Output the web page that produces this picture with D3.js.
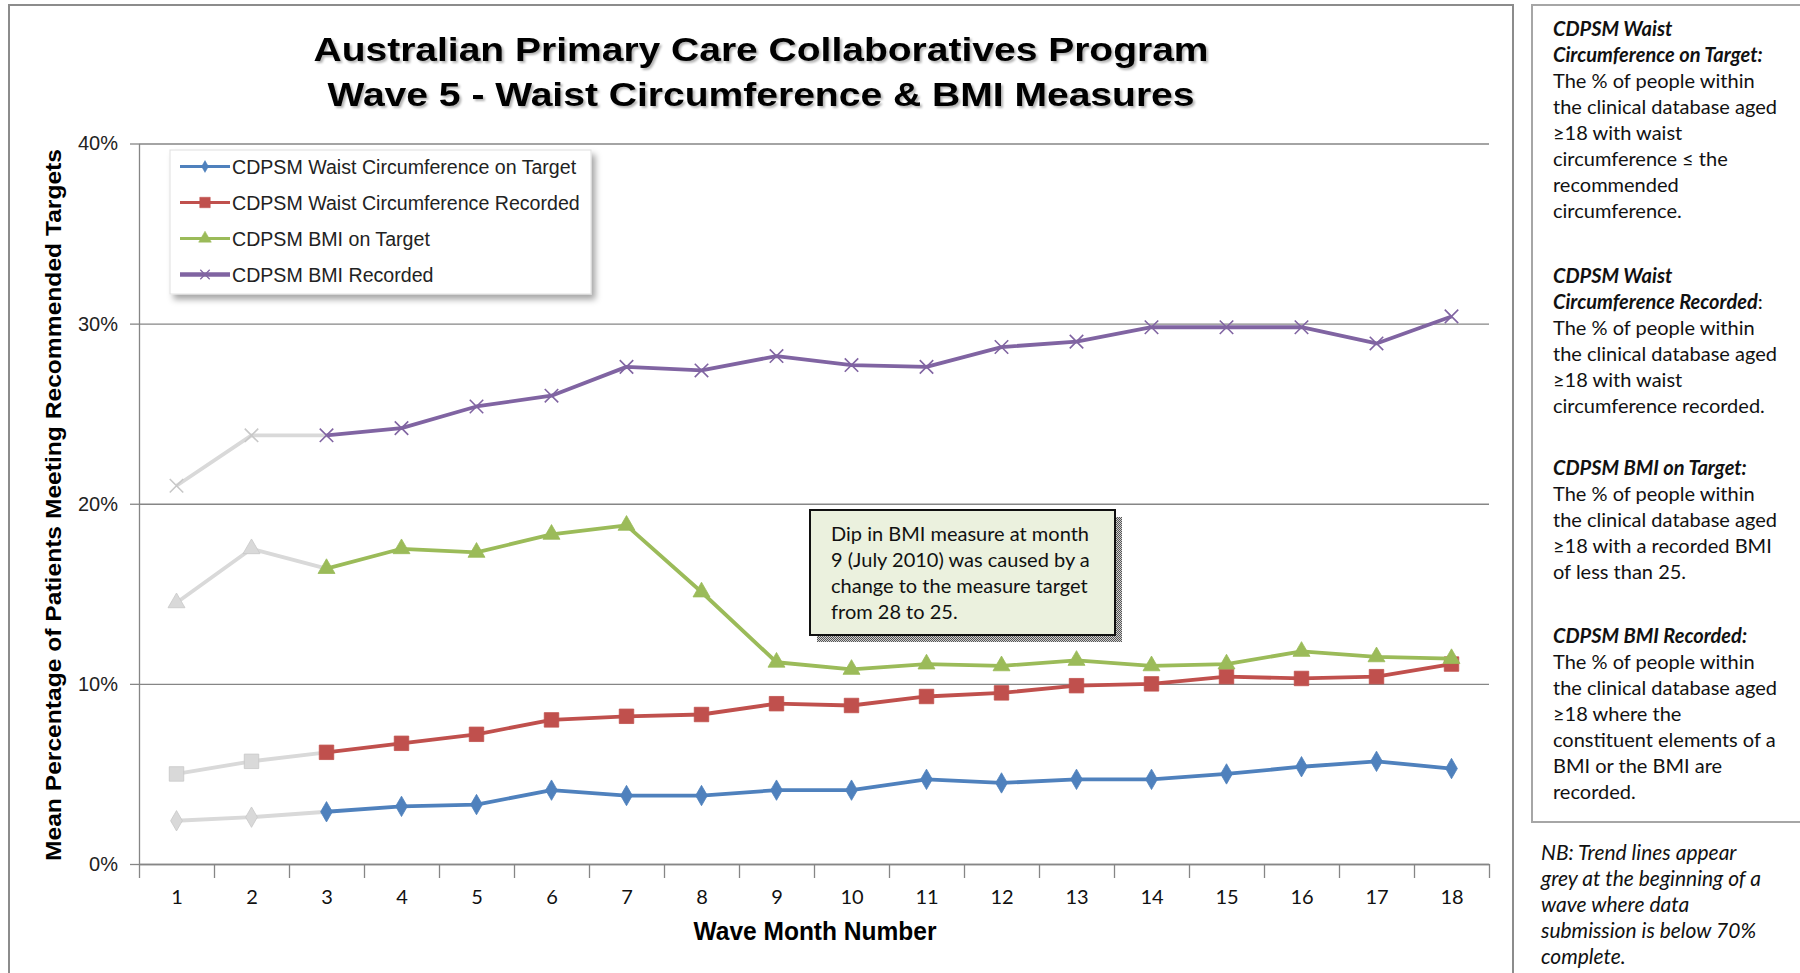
<!DOCTYPE html>
<html>
<head>
<meta charset="utf-8">
<script src="https://cdn.jsdelivr.net/npm/d3@7/dist/d3.min.js"></script>
<style>
  body { margin: 0; background: #fff; }
  svg { display: block; }
</style>
</head>
<body>
<svg id="chart"></svg>
<script>
// chart values
var months = [1,2,3,4,5,6,7,8,9,10,11,12,13,14,15,16,17,18];
var seriesNames = ["CDPSM Waist Circumference on Target", "CDPSM Waist Circumference Recorded", "CDPSM BMI on Target", "CDPSM BMI Recorded"];
var waistOnTarget = [2.4, 2.6, 2.9, 3.2, 3.3, 4.1, 3.8, 3.8, 4.1, 4.1, 4.7, 4.5, 4.7, 4.7, 5.0, 5.4, 5.7, 5.3];
var waistRecorded = [5.0, 5.7, 6.2, 6.7, 7.2, 8.0, 8.2, 8.3, 8.9, 8.8, 9.3, 9.5, 9.9, 10.0, 10.4, 10.3, 10.4, 11.1];
var bmiOnTarget = [14.5, 17.5, 16.4, 17.5, 17.3, 18.3, 18.8, 15.1, 11.2, 10.8, 11.1, 11.0, 11.3, 11.0, 11.1, 11.8, 11.5, 11.4];
var bmiRecorded = [21.0, 23.8, 23.8, 24.2, 25.4, 26.0, 27.6, 27.4, 28.2, 27.7, 27.6, 28.7, 29.0, 29.8, 29.8, 29.8, 28.9, 30.4];
var greyMonths = [1, 2]; // data submission below 70% complete
var yTicks = [0, 10, 20, 30, 40];
var noteLines = ["Dip in BMI measure at month", "9 (July 2010) was caused by a", "change to the measure target", "from 28 to 25."];
var nbLines = ["NB: Trend lines appear", "grey at the beginning of a", "wave where data", "submission is below 70%", "complete."];
var defParas = [
  {head: ["CDPSM Waist", "Circumference on Target:"], body: ["The % of people within", "the clinical database aged", "\u226518 with waist", "circumference \u2264 the", "recommended", "circumference."]},
  {head: ["CDPSM Waist", "Circumference Recorded"], body: ["The % of people within", "the clinical database aged", "\u226518 with waist", "circumference recorded."]},
  {head: ["CDPSM BMI on Target:"], body: ["The % of people within", "the clinical database aged", "\u226518 with a recorded BMI", "of less than 25."]},
  {head: ["CDPSM BMI Recorded:"], body: ["The % of people within", "the clinical database aged", "\u226518 where the", "constituent elements of a", "BMI or the BMI are", "recorded."]}
];

var colors = ["#4f81bd", "#c0504d", "#9bbb59", "#8064a2"];
var greyCol = "#d9d9d9";

var screen = {width: 1800, height: 973};
var plot = {left: 139, right: 1489, top: 143.5, bottom: 864};

var svg = d3.select("#chart")
            .attr("width", screen.width)
            .attr("height", screen.height);

var defs = svg.append("defs");
var ds = defs.append("filter").attr("id", "legShadow").attr("x", "-10%").attr("y", "-10%").attr("width", "130%").attr("height", "140%");
ds.append("feDropShadow").attr("dx", 4).attr("dy", 5).attr("stdDeviation", 3).attr("flood-color", "#000").attr("flood-opacity", 0.35);
var ts = defs.append("filter").attr("id", "titleShadow");
ts.append("feDropShadow").attr("dx", 2).attr("dy", 2).attr("stdDeviation", 1).attr("flood-color", "#000").attr("flood-opacity", 0.3);
var hatch = defs.append("pattern").attr("id", "hatch").attr("width", 2).attr("height", 2).attr("patternUnits", "userSpaceOnUse");
hatch.append("rect").attr("width", 2).attr("height", 2).attr("fill", "#d0d0d0");
hatch.append("rect").attr("width", 1).attr("height", 1).attr("fill", "#555");
hatch.append("rect").attr("x", 1).attr("y", 1).attr("width", 1).attr("height", 1).attr("fill", "#555");

//outer frames
svg.append("rect").attr("x", 9).attr("y", 5).attr("width", 1504).attr("height", 1000)
   .attr("fill", "#fff").attr("stroke", "#8c8c8c").attr("stroke-width", 2);
svg.append("rect").attr("x", 1532).attr("y", 5).attr("width", 320).attr("height", 817)
   .attr("fill", "#fff").attr("stroke", "#a6a6a6").attr("stroke-width", 2);

//title
var title = svg.append("g").attr("filter", "url(#titleShadow)")
               .style("font-family", "'Liberation Sans', Arial, sans-serif")
               .style("font-weight", "bold").style("font-size", "34px");
title.append("text").attr("x", 761).attr("y", 61).attr("text-anchor", "middle")
     .attr("textLength", 895).attr("lengthAdjust", "spacingAndGlyphs")
     .text("Australian Primary Care Collaboratives Program");
title.append("text").attr("x", 761).attr("y", 106).attr("text-anchor", "middle")
     .attr("textLength", 867).attr("lengthAdjust", "spacingAndGlyphs")
     .text("Wave 5 - Waist Circumference & BMI Measures");

//scales
var xScale = d3.scaleLinear().domain([0.5, 18.5]).range([plot.left, plot.right]);
var yScale = d3.scaleLinear().domain([0, 40]).range([plot.bottom, plot.top]);

//gridlines
svg.append("g")
   .attr("transform", "translate(" + plot.left + ",0)")
   .call(d3.axisLeft(yScale).tickValues(yTicks).tickSize(-(plot.right - plot.left)).tickFormat(""))
   .call(function(g) { g.select(".domain").remove(); })
   .selectAll("line").attr("stroke", "#868686").attr("stroke-width", 1.3);

//y-axis
var yAxis = svg.append("g")
   .attr("transform", "translate(" + plot.left + ",0)")
   .call(d3.axisLeft(yScale).tickValues(yTicks).tickSize(9).tickSizeOuter(0).tickPadding(12).tickFormat(function(d) { return d + "%"; }));
yAxis.select(".domain").attr("stroke", "#868686").attr("stroke-width", 1.3);
yAxis.selectAll("line").attr("stroke", "#868686").attr("stroke-width", 1.3);
yAxis.selectAll("text").style("font-family", "'Liberation Sans Narrow', 'Arial Narrow', 'Liberation Sans', sans-serif")
     .style("font-size", "20px").attr("fill", "#222");

//x-axis ticks at category edges
var xAxis = svg.append("g")
   .attr("transform", "translate(0," + plot.bottom + ")")
   .call(d3.axisBottom(xScale).tickValues(d3.range(0.5, 19, 1)).tickSize(14).tickSizeOuter(0).tickFormat(""));
xAxis.select(".domain").attr("stroke", "#868686").attr("stroke-width", 1.3);
xAxis.selectAll("line").attr("stroke", "#868686").attr("stroke-width", 1.3);

var xLabels = svg.append("g")
   .attr("transform", "translate(0," + plot.bottom + ")")
   .call(d3.axisBottom(xScale).tickValues(months).tickSize(0).tickPadding(26).tickFormat(d3.format("d")));
xLabels.select(".domain").remove();
xLabels.selectAll("text").style("font-family", "Lato, 'Open Sans', sans-serif")
       .style("font-size", "20px").attr("fill", "#111");

//axis titles
svg.append("text")
   .attr("transform", "translate(61,505) rotate(-90)")
   .attr("text-anchor", "middle")
   .attr("textLength", 712).attr("lengthAdjust", "spacingAndGlyphs")
   .style("font-family", "'Liberation Sans', Arial, sans-serif")
   .style("font-weight", "bold").style("font-size", "22px")
   .text("Mean Percentage of Patients Meeting Recommended Targets");

svg.append("text")
   .attr("x", 815).attr("y", 940)
   .attr("text-anchor", "middle")
   .attr("textLength", 243).attr("lengthAdjust", "spacingAndGlyphs")
   .style("font-family", "'Liberation Sans', Arial, sans-serif")
   .style("font-weight", "bold").style("font-size", "25px")
   .text("Wave Month Number");

//series
var allSeries = [waistOnTarget, waistRecorded, bmiOnTarget, bmiRecorded];
var symbols = [d3.symbolDiamond, d3.symbolSquare, d3.symbolTriangle, d3.symbolTimes || d3.symbolX];
var symSize = [120, 210, 125, 120];
var lastGrey = greyMonths[greyMonths.length - 1];

var line = d3.line()
             .x(function(d) { return xScale(d.m); })
             .y(function(d) { return yScale(d.v); });

allSeries.forEach(function(vals, s)
{
  var pts = months.map(function(m, i) { return {m: m, v: vals[i]}; });
  var greyPart = pts.filter(function(d) { return d.m <= lastGrey + 1; });
  var colPart = pts.filter(function(d) { return d.m >= lastGrey + 1; });

  var g = svg.append("g").classed("series", true);

  g.append("path").datum(greyPart).attr("d", line)
   .attr("fill", "none").attr("stroke", greyCol).attr("stroke-width", 3.8).attr("stroke-linejoin", "round");
  g.append("path").datum(colPart).attr("d", line)
   .attr("fill", "none").attr("stroke", colors[s]).attr("stroke-width", 3.8).attr("stroke-linejoin", "round");

  var isStroke = (s == 3);
  g.selectAll("path.mark")
   .data(pts)
   .enter()
   .append("path")
   .classed("mark", true)
   .attr("transform", function(d) { return "translate(" + xScale(d.m) + "," + yScale(d.v) + ")"; })
   .attr("d", d3.symbol().type(symbols[s]).size(symSize[s]))
   .attr("fill", function(d) { return isStroke ? "none" : (d.m <= lastGrey ? greyCol : colors[s]); })
   .attr("stroke", function(d) { return d.m <= lastGrey ? "#c8c8c8" : colors[s]; })
   .attr("stroke-width", isStroke ? 1.6 : 0.8);
});

//legend
var legend = svg.append("g").classed("legend", true);
legend.append("rect").attr("x", 170).attr("y", 150).attr("width", 421).attr("height", 144)
      .attr("fill", "#fff").attr("stroke", "#e0e0e0").attr("filter", "url(#legShadow)");

var legendLines = legend.selectAll("g.item")
   .data(seriesNames)
   .enter()
   .append("g")
   .classed("item", true)
   .attr("transform", function(d, i) { return "translate(0," + (166.5 + i * 36) + ")"; });

legendLines.append("line")
   .attr("x1", 180).attr("x2", 230).attr("y1", 0).attr("y2", 0)
   .attr("stroke", function(d, i) { return colors[i]; })
   .attr("stroke-width", function(d, i) { return i == 3 ? 4.5 : 3; });

legendLines.append("path")
   .attr("transform", "translate(205,0)")
   .attr("d", function(d, i) { return d3.symbol().type(symbols[i]).size([40, 110, 70, 60][i])(); })
   .attr("fill", function(d, i) { return i == 3 ? "none" : colors[i]; })
   .attr("stroke", function(d, i) { return colors[i]; })
   .attr("stroke-width", function(d, i) { return i == 3 ? 1.2 : 0.5; });

legendLines.append("text")
   .attr("x", 232).attr("dy", "0.36em")
   .style("font-family", "'Liberation Sans Narrow', 'Arial Narrow', 'Liberation Sans', sans-serif")
   .style("font-size", "19.6px").attr("fill", "#222")
   .text(function(d) { return d; });

//annotation
var note = svg.append("g").classed("note", true);
note.append("rect").attr("x", 817).attr("y", 517).attr("width", 305).attr("height", 125).attr("fill", "url(#hatch)");
note.append("rect").attr("x", 810).attr("y", 510).attr("width", 305).attr("height", 125)
    .attr("fill", "#ebf1de").attr("stroke", "#111").attr("stroke-width", 2);
note.selectAll("text")
    .data(noteLines)
    .enter()
    .append("text")
    .attr("x", 831)
    .attr("y", function(d, i) { return 541 + i * 26; })
    .style("font-family", "Lato, 'Open Sans', sans-serif")
    .style("font-size", "20px").attr("fill", "#111")
    .text(function(d) { return d; });

//definitions panel
var paraTop = [29, 275.5, 468, 636];
var defs2 = svg.append("g").classed("definitions", true)
               .style("font-family", "Lato, 'Open Sans', sans-serif").style("font-size", "20px");
defParas.forEach(function(p, k)
{
  var rows = p.head.map(function(t) { return {t: t, head: true}; })
              .concat(p.body.map(function(t) { return {t: t, head: false}; }));
  var txt = defs2.selectAll("text.p" + k)
       .data(rows)
       .enter()
       .append("text")
       .classed("p" + k, true)
       .attr("x", 1553)
       .attr("y", function(d, i) { return paraTop[k] + 7 + i * 26; })
       .attr("fill", "#111")
       .style("font-weight", function(d) { return d.head ? "bold" : "normal"; })
       .style("font-style", function(d) { return d.head ? "italic" : "normal"; })
       .text(function(d) { return d.t; });
  if (k == 1) {
    // colon is not italic in the reference
    txt.filter(function(d, i) { return i == 1; }).append("tspan")
       .style("font-weight", "normal").style("font-style", "normal").text(":");
  }
});

svg.append("g").classed("nb", true)
   .selectAll("text")
   .data(nbLines)
   .enter()
   .append("text")
   .attr("x", 1541)
   .attr("y", function(d, i) { return 860 + i * 26; })
   .style("font-family", "Lato, 'Open Sans', sans-serif")
   .style("font-size", "21px").style("font-style", "italic").attr("fill", "#111")
   .text(function(d) { return d; });
</script>
</body>
</html>
